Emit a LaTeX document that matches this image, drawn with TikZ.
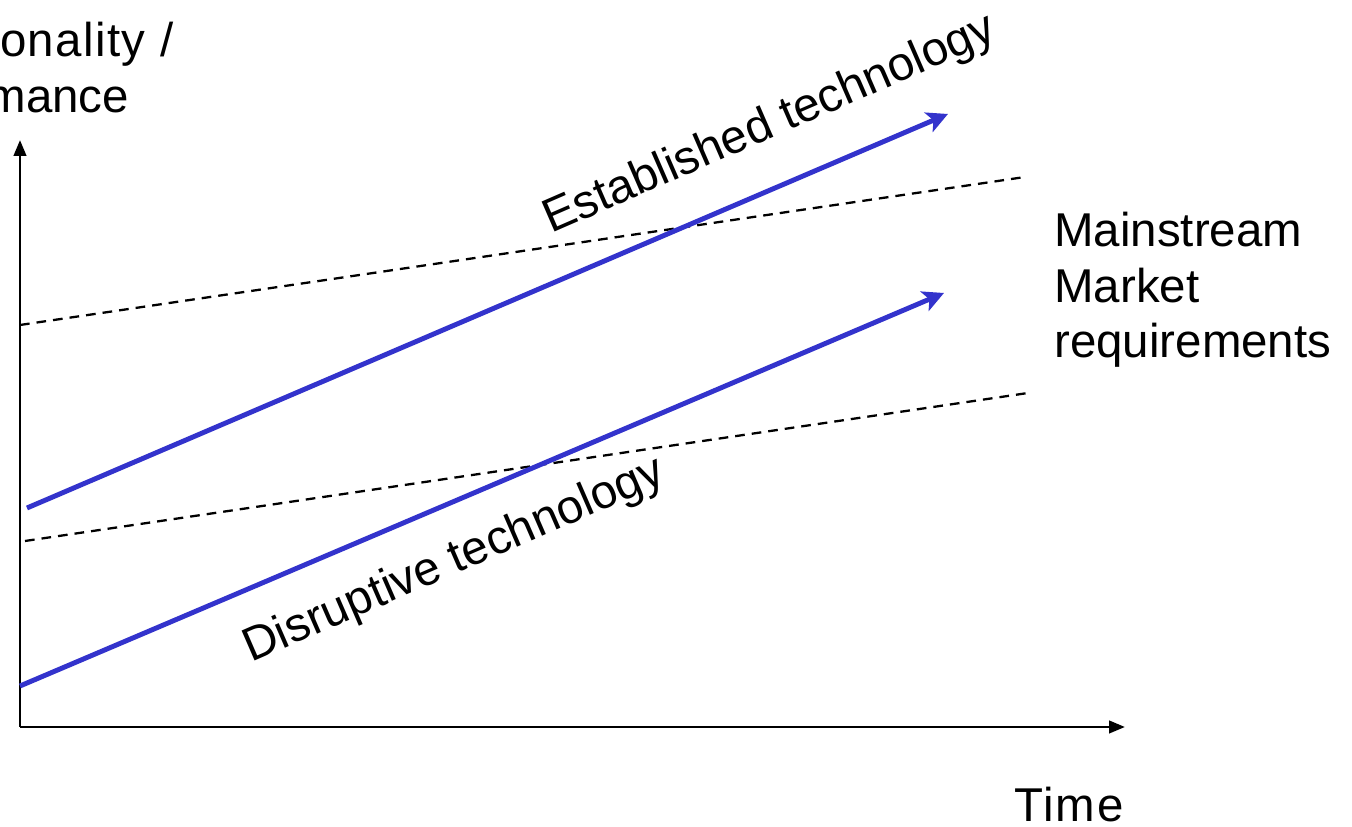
\documentclass[tikz,border=0pt]{standalone}
\usepackage{fontspec}
\setmainfont{Liberation Sans}
\usetikzlibrary{arrows.meta}
\definecolor{techblue}{RGB}{51,51,204}
\tikzset{
  axis/.style={line width=1.6pt,-{Triangle[length=9pt,width=7pt]}},
  techline/.style={techblue,line width=2.8pt,-{Stealth[length=12pt,width=12pt,inset=3pt]}},
  reqline/.style={line width=1.3pt,dash pattern=on 5.5pt off 4pt},
  lbl/.style={inner sep=0pt,font=\fontsize{27}{31.5}\selectfont},
  axislbl/.style={lbl,font=\fontsize{27}{31.5}\selectfont\addfontfeature{LetterSpace=4}}
}
\begin{document}
\begin{tikzpicture}[x=0.2mm,y=0.2mm]
 \useasboundingbox (0,0) rectangle (1352,827);
 % axes
 \coordinate (O) at (20,100);
 \coordinate (ytip) at (20,687);
 \coordinate (xtip) at (1125,100);
 \draw[axis] (O) -- (ytip);
 \draw[axis] (O) -- (xtip);
 % market requirements
 \coordinate (reqA0) at (20,502);
 \coordinate (reqA1) at (1025,650);
 \coordinate (reqB0) at (25,286);
 \coordinate (reqB1) at (1028,434);
 \draw[reqline] (reqA0) -- (reqA1);
 \draw[reqline] (reqB0) -- (reqB1);
 % technologies
 \coordinate (est0) at (27,319);
 \coordinate (est1) at (948,713);
 \coordinate (dis0) at (20,141);
 \coordinate (dis1) at (944,534);
 \draw[techline] (est0) -- (est1);
 \draw[techline] (dis0) -- (dis1);
 % labels
 \node[lbl,anchor=north west,align=left] (perf) at (-143,805) {{\addfontfeature{LetterSpace=3}\hspace*{1mm}Functionality /}\\Performance};
 \node[axislbl,anchor=base west] (time) at (1014,5) {Time};
 \node[lbl,anchor=north west,align=left] (req) at (1054,615) {Mainstream\\Market\\requirements};
 \node[lbl,anchor=base west,rotate=23.5] (estlbl) at (551,593) {Established technology};
 \node[lbl,anchor=base west,rotate=23.5] (dislbl) at (251,164) {Disruptive technology};
\end{tikzpicture}
\end{document}
